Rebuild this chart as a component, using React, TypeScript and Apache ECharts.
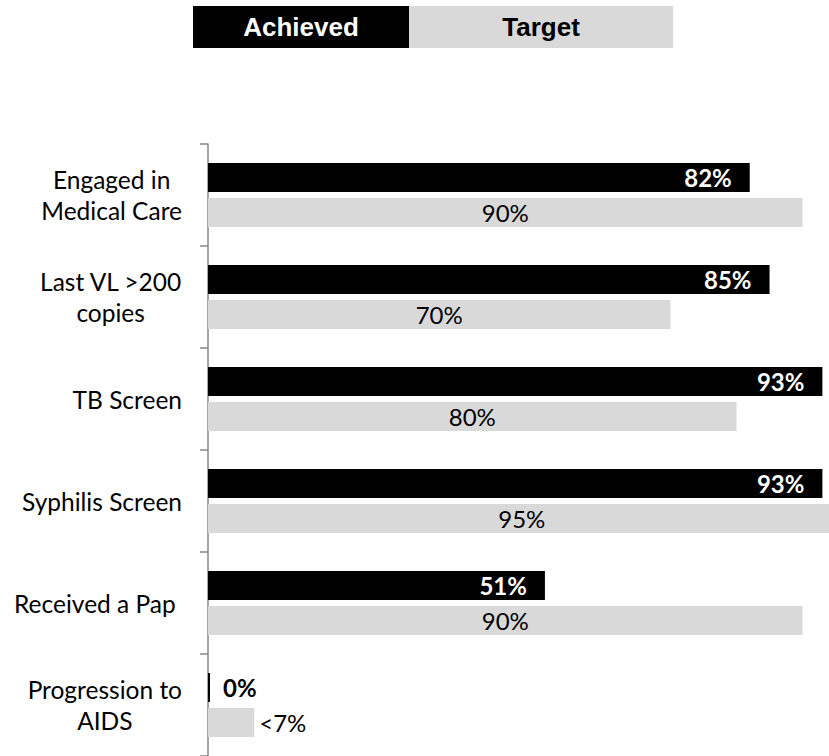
import React, { useEffect, useRef } from "react";
import * as echarts from "echarts";

const categories = [
  "Engaged in\nMedical Care",
  "Last VL >200\ncopies",
  "TB Screen",
  "Syphilis Screen",
  "Received a Pap ",
  "Progression to\nAIDS",
];
const achievedValues = [82, 85, 93, 93, 51, 0];
const targetValues = [90, 70, 80, 95, 90, 7];
const targetLabels = ["90%", "70%", "80%", "95%", "90%", "<7%"];
const seriesNames = ["Achieved", "Target"];

const LABEL_FONT = "Lato";
const LEGEND_FONT = "Liberation Sans";

export default function App() {
  const ref = useRef<HTMLDivElement>(null);
  useEffect(() => {
    if (!ref.current) return;
    const chart = echarts.init(ref.current, undefined, { renderer: "svg" });

    const achievedData = achievedValues.map((v) =>
      v === 0
        ? {
            value: v,
            label: {
              position: "right",
              distance: 13,
              color: "#000",
            },
          }
        : { value: v }
    );
    const targetData = targetValues.map((v, i) =>
      i === targetValues.length - 1
        ? { value: v, label: { position: "right", distance: 5 } }
        : { value: v }
    );

    chart.setOption({
      animation: false,
      legend: {
        left: 188,
        top: 6,
        padding: 0,
        itemGap: -5,
        itemWidth: 0,
        itemHeight: 42,
        icon: "none",
        selectedMode: false,
        data: [
          {
            name: seriesNames[0],
            icon: "none",
            textStyle: {
              color: "#fff",
              backgroundColor: "#000",
              fontFamily: LEGEND_FONT,
              fontWeight: "bold",
              fontSize: 26,
              lineHeight: 26,
              padding: [8, 50.2, 8, 50.2],
            },
          },
          {
            name: seriesNames[1],
            icon: "none",
            textStyle: {
              color: "#000",
              backgroundColor: "#d9d9d9",
              fontFamily: LEGEND_FONT,
              fontWeight: "bold",
              fontSize: 26,
              lineHeight: 26,
              padding: [8, 93.3, 8, 93.3],
            },
          },
        ],
      },
      grid: { left: 208, top: 144, right: 0, height: 614 },
      xAxis: {
        type: "value",
        min: 0,
        max: 94,
        show: false,
      },
      yAxis: {
        type: "category",
        inverse: true,
        data: categories,
        axisLine: { show: true, lineStyle: { color: "#868686", width: 1.5 } },
        axisTick: { show: true, length: 8, lineStyle: { color: "#868686", width: 1.5 } },
        splitLine: { show: false },
        axisLabel: {
          margin: 26,
          align: "right",
          formatter: (v: string) =>
            v
              .split("\n")
              .map((l) => `{c|${l}}`)
              .join("\n"),
          rich: {
            c: {
              align: "center",
              fontFamily: LABEL_FONT,
              fontSize: 24.5,
              lineHeight: 31,
              color: "#000",
            },
          },
        },
      },
      series: [
        {
          name: seriesNames[0],
          type: "bar",
          data: achievedData,
          barWidth: 29,
          barGap: "21%",
          barMinHeight: 2,
          itemStyle: { color: "#000" },
          label: {
            show: true,
            position: "insideRight",
            distance: 18,
            formatter: "{c}%",
            color: "#fff",
            fontFamily: LABEL_FONT,
            fontWeight: "bold",
            fontSize: 24,
          },
        },
        {
          name: seriesNames[1],
          type: "bar",
          data: targetData,
          barWidth: 29,
          clip: false,
          itemStyle: { color: "#d9d9d9" },
          label: {
            show: true,
            position: "inside",
            formatter: (p: any) => targetLabels[p.dataIndex],
            color: "#000",
            fontFamily: LABEL_FONT,
            fontSize: 24,
          },
        },
      ],
    });
    return () => chart.dispose();
  }, []);
  return (
    <div
      ref={ref}
      style={{ position: "absolute", left: 0, top: 0, width: 829, height: 756 }}
    />
  );
}
